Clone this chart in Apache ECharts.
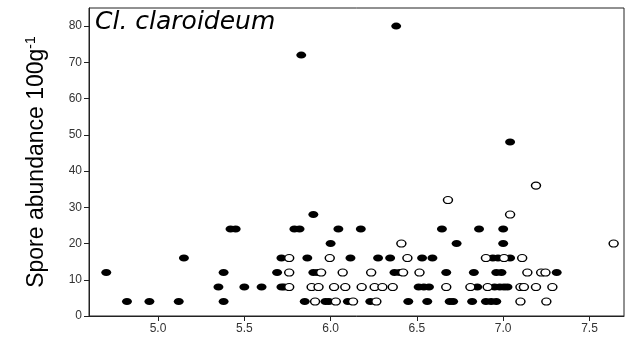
<!DOCTYPE html>
<html>
<head>
<meta charset="utf-8">
<script src="https://cdn.jsdelivr.net/npm/echarts@6/dist/echarts.min.js"></script>
<style>
html,body{margin:0;padding:0;background:#fff;}
#chart{width:629px;height:348px;}
</style>
</head>
<body>
<div id="chart"></div>
<script>
// ---- data ----
const xTickValues = [5.0, 5.5, 6.0, 6.5, 7.0, 7.5];
const yTickValues = [0, 10, 20, 30, 40, 50, 60, 70, 80];

// filled symbols: pH (x) and spore abundance (y)
const filledPH = [
  4.82, 4.95, 5.12, 5.38, 5.85, 5.97, 5.99, 6.10, 6.23, 6.45, 6.56, 6.69, 6.71, 6.82, 6.90, 6.93, 6.96,
  5.35, 5.50, 5.60, 5.715, 5.73, 6.51, 6.54, 6.57, 6.85, 6.95, 6.98, 7.005, 7.025,
  4.70, 5.38, 5.69, 5.90, 5.925, 6.37, 6.40, 6.67, 6.83, 6.96, 6.99, 7.31,
  5.15, 5.715, 5.865, 6.115, 6.275, 6.345, 6.53, 6.59, 6.94, 6.97, 7.04,
  6.00, 6.73, 7.00,
  5.42, 5.45, 5.79, 5.82, 6.045, 6.175, 6.645, 6.86, 7.00,
  5.90, 7.04, 5.83, 6.38
];
const filledSpores = [
  4, 4, 4, 4, 4, 4, 4, 4, 4, 4, 4, 4, 4, 4, 4, 4, 4,
  8, 8, 8, 8, 8, 8, 8, 8, 8, 8, 8, 8, 8,
  12, 12, 12, 12, 12, 12, 12, 12, 12, 12, 12, 12,
  16, 16, 16, 16, 16, 16, 16, 16, 16, 16, 16,
  20, 20, 20,
  24, 24, 24, 24, 24, 24, 24, 24, 24,
  28, 48, 72, 80
];

// open symbols
const openPH = [
  5.91, 6.03, 6.13, 6.265, 7.10, 7.25,
  5.76, 5.89, 5.93, 6.02, 6.085, 6.18, 6.255, 6.30, 6.36, 6.67, 6.81, 6.91, 7.10, 7.12, 7.19, 7.285,
  5.76, 5.945, 6.07, 6.235, 6.42, 6.515, 7.14, 7.22, 7.245,
  5.76, 5.995, 6.445, 6.90, 7.005, 7.11,
  6.41, 7.64,
  7.04, 6.68, 7.19
];
const openSpores = [
  4, 4, 4, 4, 4, 4,
  8, 8, 8, 8, 8, 8, 8, 8, 8, 8, 8, 8, 8, 8, 8, 8,
  12, 12, 12, 12, 12, 12, 12, 12, 12,
  16, 16, 16, 16, 16, 16,
  20, 20,
  28, 32, 36
];

const titleText = 'Cl. claroideum';
const yTitle = 'Spore abundance 100g';
const ySup = '-1';

// ---- chart ----
const ellipse = 'path://M0,4 A5,4 0 1,1 10,4 A5,4 0 1,1 0,4 Z';
const pair = (xs, ys) => xs.map((x, i) => [x, ys[i]]);

const chart = echarts.init(document.getElementById('chart'), null, {renderer: 'canvas'});
chart.setOption({
  animation: false,
  backgroundColor: '#ffffff',
  title: {
    text: titleText,
    left: 95, top: 10, padding: 0,
    textStyle: {fontFamily: 'DejaVu Sans', fontStyle: 'italic', fontWeight: 'normal', fontSize: 25, color: '#000'}
  },
  grid: {left: 89, right: 5, top: 8, bottom: 32, show: true, borderColor: '#222', borderWidth: 1, containLabel: false},
  xAxis: {
    type: 'value', min: 4.6, max: 7.7,
    axisLine: {show: true, lineStyle: {color: '#222', width: 1}},
    axisTick: {show: true, length: 5, customValues: xTickValues, lineStyle: {color: '#222'}},
    axisLabel: {customValues: xTickValues, formatter: v => v.toFixed(1), color: '#333', fontSize: 12, fontFamily: 'Liberation Sans', margin: 7},
    splitLine: {show: false}
  },
  yAxis: {
    type: 'value', min: 0, max: 85,
    name: '{m|' + yTitle + '}{s|' + ySup + '}',
    nameLocation: 'middle', nameGap: 40, nameRotate: 90,
    nameTextStyle: {
      rich: {
        m: {fontFamily: 'Liberation Sans', fontSize: 23, color: '#000'},
        s: {fontFamily: 'Liberation Sans', fontSize: 14, color: '#000', verticalAlign: 'top', padding: [0, 0, 11, 0]}
      }
    },
    axisLine: {show: true, lineStyle: {color: '#222', width: 1}},
    axisTick: {show: true, length: 5, customValues: yTickValues, lineStyle: {color: '#222'}},
    axisLabel: {customValues: yTickValues, color: '#333', fontSize: 12, fontFamily: 'Liberation Sans', margin: 7},
    splitLine: {show: false}
  },
  series: [
    {
      type: 'scatter', name: 'filled', data: pair(filledPH, filledSpores),
      symbol: ellipse, symbolSize: [10, 7],
      itemStyle: {color: '#000', opacity: 1}
    },
    {
      type: 'scatter', name: 'open', data: pair(openPH, openSpores),
      symbol: ellipse, symbolSize: [9, 7],
      itemStyle: {color: '#fff', borderColor: '#000', borderWidth: 1.3, opacity: 1}
    }
  ]
});
</script>
</body>
</html>
